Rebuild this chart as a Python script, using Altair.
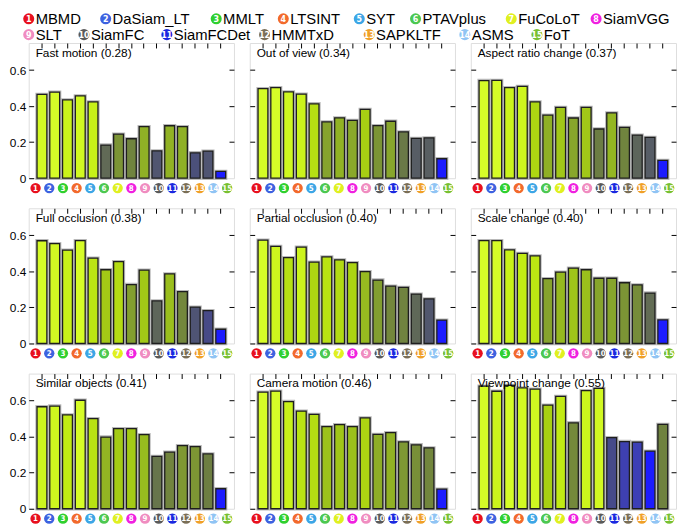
import altair as alt
import pandas as pd

FONT = "Liberation Sans, Arial, Helvetica, sans-serif"
NARROW = "Liberation Sans Narrow, DejaVu Sans Condensed, sans-serif"

# ---------------- data ----------------
trackers = ["MBMD", "DaSiam_LT", "MMLT", "LTSINT", "SYT", "PTAVplus", "FuCoLoT", "SiamVGG",
            "SLT", "SiamFC", "SiamFCDet", "HMMTxD", "SAPKLTF", "ASMS", "FoT"]
tracker_ids = list(range(1, 16))
tracker_colors = ["#e8101e", "#3d62e0", "#2fd02f", "#f26a2c", "#3ca6e6", "#4cc850", "#e0f020", "#f020e0",
                  "#f08cc0", "#5a5a5a", "#1a28e0", "#7a6e56", "#f0a028", "#90c4f4", "#78c030"]

panel_titles = ["Fast motion (0.28)", "Out of view (0.34)", "Aspect ratio change (0.37)",
                "Full occlusion (0.38)", "Partial occlusion (0.40)", "Scale change (0.40)",
                "Similar objects (0.41)", "Camera motion (0.46)", "Viewpoint change (0.55)"]

fast_motion = [0.465, 0.477, 0.434, 0.457, 0.423, 0.184, 0.244, 0.219, 0.286, 0.152, 0.291, 0.286, 0.141, 0.150, 0.038]
out_of_view = [0.497, 0.502, 0.479, 0.466, 0.413, 0.312, 0.335, 0.321, 0.382, 0.292, 0.316, 0.257, 0.221, 0.224, 0.108]
aspect_ratio_change = [0.542, 0.543, 0.502, 0.509, 0.423, 0.350, 0.393, 0.334, 0.393, 0.273, 0.362, 0.282, 0.239, 0.226, 0.099]
full_occlusion = [0.570, 0.554, 0.518, 0.571, 0.473, 0.409, 0.454, 0.327, 0.407, 0.236, 0.386, 0.288, 0.202, 0.182, 0.079]
partial_occlusion = [0.573, 0.539, 0.476, 0.535, 0.451, 0.480, 0.464, 0.449, 0.399, 0.352, 0.318, 0.311, 0.274, 0.247, 0.130]
scale_change = [0.571, 0.571, 0.519, 0.500, 0.486, 0.360, 0.396, 0.418, 0.409, 0.362, 0.362, 0.337, 0.325, 0.280, 0.131]
similar_objects = [0.566, 0.570, 0.521, 0.602, 0.500, 0.398, 0.445, 0.445, 0.411, 0.291, 0.314, 0.350, 0.345, 0.304, 0.111]
camera_motion = [0.647, 0.653, 0.595, 0.542, 0.524, 0.456, 0.467, 0.456, 0.504, 0.413, 0.422, 0.371, 0.355, 0.338, 0.109]
viewpoint_change = [0.680, 0.652, 0.684, 0.671, 0.664, 0.575, 0.623, 0.477, 0.655, 0.668, 0.395, 0.373, 0.370, 0.320, 0.468]

series = [fast_motion, out_of_view, aspect_ratio_change, full_occlusion, partial_occlusion,
          scale_change, similar_objects, camera_motion, viewpoint_change]

y_ticks = [0, 0.2, 0.4, 0.6]

# ---------------- layout / style (not data) ----------------
W, H = 208, 137
FRAME_X, FRAME_Y = 28, 40          # page position of the first panel's frame (approx.)
legend_x = [28, 106, 218, 286, 363, 420, 517, 603, 28, 84, 168, 267, 373, 470, 543]
legend_y = [15.5] * 8 + [31.5] * 7
cmap_stops = [0, 0.12, 0.22, 0.30, 0.40, 0.55, 0.70, 0.85, 1.0]
cmap_colors = ["#1c1cff", "#3a3cc0", "#484c80", "#5a6060", "#6e8040", "#8cac28", "#a8d012", "#c4ee14", "#d6fc28"]

rows = []
for title, vals in zip(panel_titles, series):
    for i, v in zip(tracker_ids, vals):
        rows.append({"panel": title, "idx": i, "value": v})
df = pd.DataFrame(rows)
tr = pd.DataFrame({"idx": tracker_ids, "name": trackers, "color": tracker_colors})
leg_df = pd.DataFrame({"idx": tracker_ids, "name": trackers, "color": tracker_colors,
                       "lx": legend_x, "ly": legend_y})

xscale = alt.Scale(domain=tracker_ids, paddingInner=0.23, paddingOuter=0.65)
yscale = alt.Scale(domain=[0, 0.75], nice=False)


def legend_layers():
    lx = alt.X("lx:Q", scale=alt.Scale(domain=[0, 685], range=[-FRAME_X, 685 - FRAME_X], nice=False, zero=False),
               axis=None)
    ly = alt.Y("ly:Q", scale=alt.Scale(domain=[0, FRAME_Y], range=[-FRAME_Y, 0], nice=False, zero=False),
               axis=None)
    b = alt.Chart(leg_df)
    return [
        b.mark_circle(size=125, opacity=1).encode(x=lx, y=ly, color=alt.Color("color:N", scale=None)),
        b.mark_text(color="white", fontSize=9, fontWeight="bold", font=NARROW, align="center",
                    baseline="middle", dy=0.5).encode(x=lx, y=ly, text="idx:N"),
        b.mark_text(color="black", fontSize=15, font=FONT, align="left", baseline="middle",
                    dx=7).encode(x=lx, y=ly, text="name:N"),
    ]


def make_panel(k, title):
    base = alt.Chart(df).transform_filter(alt.datum.panel == title)
    left_axis = alt.Axis(orient="left", offset=-5, tickSize=5, domain=False, grid=False, title=None,
                         values=y_ticks, labels=(k % 3 == 0), labelPadding=3, labelFontSize=12,
                         labelFont=FONT, labelColor="black", tickColor="black",
                         labelExpr="datum.value == 0 ? '0' : format(datum.value, '.1f')")
    xb = alt.X("idx:O", scale=xscale, axis=None)
    yb = alt.Y("value:Q", scale=yscale, axis=None)
    halo = base.mark_bar(color="#b8b8b8", stroke="#b8b8b8", strokeWidth=3.4).encode(x=xb, y=yb)
    bars = base.mark_bar(stroke="#1e1e1e", strokeWidth=1.3).transform_joinaggregate(
        vmin="min(value)", vmax="max(value)"
    ).transform_calculate(
        norm="(datum.value - datum.vmin) / (datum.vmax - datum.vmin)"
    ).encode(
        x=alt.X("idx:O", scale=xscale,
                axis=alt.Axis(orient="top", offset=-5, tickSize=5, labels=False, domain=False,
                              title=None, grid=False, tickColor="black")),
        y=alt.Y("value:Q", scale=yscale, axis=left_axis),
        color=alt.Color("norm:Q", scale=alt.Scale(domain=cmap_stops, range=cmap_colors, interpolate="rgb"),
                        legend=None),
    )
    right = base.mark_bar(opacity=0).encode(
        x=xb,
        y=alt.Y("value:Q", scale=yscale,
                axis=alt.Axis(orient="right", offset=-5, tickSize=5, labels=False, domain=False,
                              grid=False, title=None, values=y_ticks[1:], tickColor="black")),
    )
    circles = alt.Chart(tr).mark_circle(size=110, opacity=1).encode(
        x=xb, y=alt.value(H + 10), color=alt.Color("color:N", scale=None),
    )
    nums = alt.Chart(tr).mark_text(color="white", fontSize=8, fontWeight="bold", font=NARROW,
                                   align="center", baseline="middle").encode(
        x=xb, y=alt.value(H + 10.5), text="idx:O",
    )
    label = alt.Chart(pd.DataFrame({"t": [title]})).mark_text(
        align="left", baseline="middle", fontSize=12, font=FONT, color="black"
    ).encode(x=alt.value(7), y=alt.value(10), text="t:N")
    layers = [halo, bars, right, circles, nums, label]
    if k == 0:
        layers += legend_layers()
    return alt.layer(*layers).resolve_axis(y="independent").resolve_scale(
        color="independent", x="independent", y="independent").properties(width=W, height=H)


panels = [make_panel(k, t) for k, t in enumerate(panel_titles)]

chart = alt.concat(*panels, columns=3, spacing={"row": 30.5, "column": 16}, bounds="flush").properties(
    padding=0
).configure_view(stroke="#222222", strokeWidth=1.2).configure(background="white")

chart.save("out.html", embed_options={"renderer": "svg", "actions": False})
